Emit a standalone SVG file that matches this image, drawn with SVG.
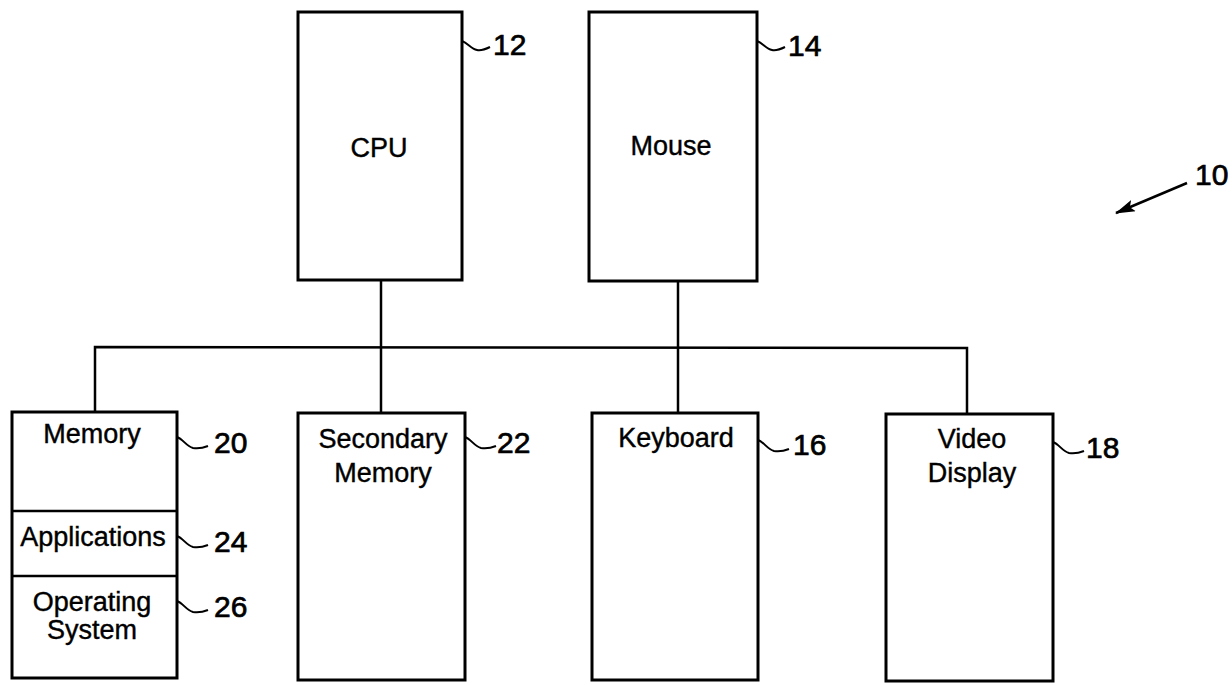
<svg xmlns="http://www.w3.org/2000/svg" width="1232" height="685" viewBox="0 0 1232 685">
<defs>
<style>
.box{fill:#fff;stroke:#000;stroke-width:3}
.ln{fill:none;stroke:#000;stroke-width:2.5}
.sq{fill:none;stroke:#000;stroke-width:2}
.t{font-family:"Liberation Sans",Arial,sans-serif;font-size:27px;fill:#000;stroke:#000;stroke-width:0.4;text-anchor:middle}
.n{font-family:"Liberation Sans",Arial,sans-serif;font-size:30px;fill:#000;stroke:#000;stroke-width:0.7}
</style>
<marker id="ah" markerWidth="20" markerHeight="12" refX="19" refY="6" orient="auto" markerUnits="userSpaceOnUse" viewBox="0 0 20 12">
<path d="M0,0 L20,6 L0,12 L4,6 Z" fill="#000"/>
</marker>
</defs>
<rect width="1232" height="685" fill="#fff"/>
<g id="connectors">
<line class="ln" x1="381" y1="280" x2="381" y2="413"/>
<line class="ln" x1="678" y1="281" x2="678" y2="414"/>
<polyline class="ln" points="95,412 95,347 967,348 967,414"/>
</g>
<g id="cpu">
<rect class="box" x="298" y="12" width="164" height="268"/>
<text class="t" x="379" y="157">CPU</text>
<path class="sq" d="M462,41 c6,2 9,8 15,9 c5,1 9,-1 13,-3"/>
<text class="n" x="493" y="55">12</text>
</g>
<g id="mouse">
<rect class="box" x="589" y="12" width="168" height="269"/>
<text class="t" x="671" y="155">Mouse</text>
<path class="sq" d="M757,41 c6,2 9,8 15,9 c5,1 9,-1 13,-3"/>
<text class="n" x="788" y="56">14</text>
</g>
<g id="memory">
<rect class="box" x="12" y="412" width="165" height="266"/>
<line class="ln" x1="12" y1="511" x2="177" y2="511"/>
<line class="ln" x1="12" y1="576" x2="177" y2="576"/>
<text class="t" x="92" y="443">Memory</text>
<text class="t" x="93" y="546">Applications</text>
<text class="t" x="92" y="611">Operating</text>
<text class="t" x="92" y="639">System</text>
<path class="sq" d="M177,437 c6,2 9,9 16,11 c6,1 10,0 15,-2"/>
<text class="n" x="214" y="453">20</text>
<path class="sq" d="M177,536 c6,2 9,9 16,11 c6,1 10,0 15,-2"/>
<text class="n" x="214" y="552">24</text>
<path class="sq" d="M177,601 c6,2 9,9 16,11 c6,1 10,0 15,-2"/>
<text class="n" x="214" y="617">26</text>
</g>
<g id="secondary">
<rect class="box" x="298" y="413" width="167" height="267"/>
<text class="t" x="383" y="448">Secondary</text>
<text class="t" x="383" y="482">Memory</text>
<path class="sq" d="M465,437 c6,2 9,9 16,11 c6,1 10,0 15,-2"/>
<text class="n" x="497" y="453">22</text>
<path d="M0,0" fill="none"/>
</g>
<g id="keyboard">
<rect class="box" x="592" y="413" width="166" height="267"/>
<text class="t" x="676" y="447">Keyboard</text>
<path class="sq" d="M758,440 c6,2 9,9 16,11 c6,1 10,0 15,-2"/>
<text class="n" x="793" y="455">16</text>
</g>
<g id="video">
<rect class="box" x="886" y="414" width="167" height="267"/>
<text class="t" x="972" y="448">Video</text>
<text class="t" x="972" y="482">Display</text>
<path class="sq" d="M1053,442 c6,2 9,9 16,11 c6,1 10,0 15,-2"/>
<text class="n" x="1086" y="458">18</text>
</g>
<g id="ref10">
<text class="n" x="1195" y="185">10</text>
<line x1="1187" y1="183" x2="1116" y2="213" stroke="#000" stroke-width="2.5" marker-end="url(#ah)"/>
</g>
</svg>
